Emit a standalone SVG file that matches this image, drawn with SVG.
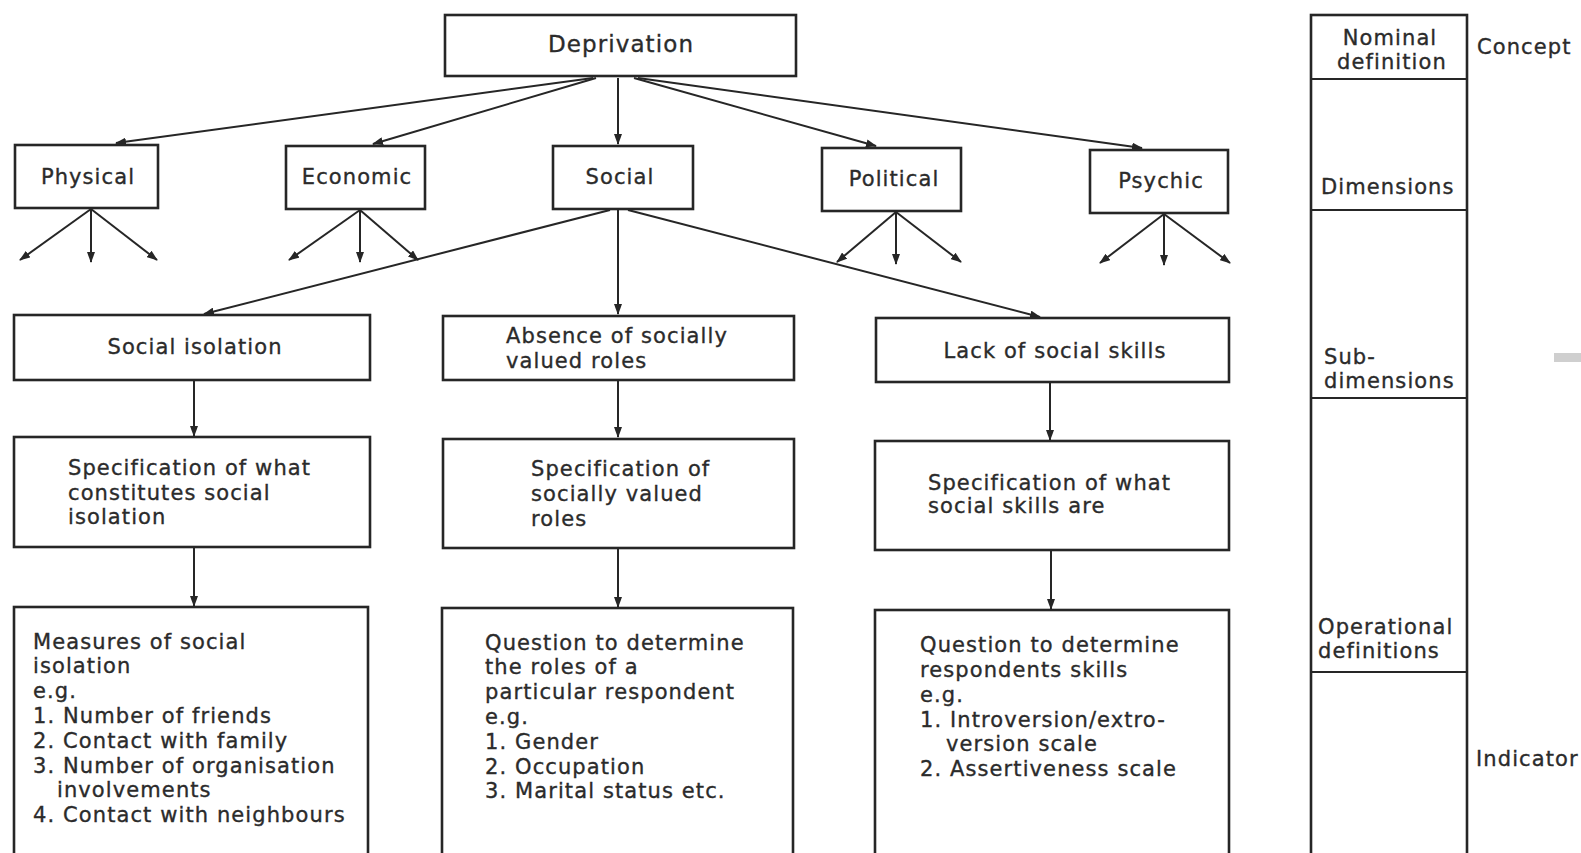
<svg xmlns="http://www.w3.org/2000/svg" width="1581" height="853" viewBox="0 0 1581 853">
<style>
.box{fill:#fff;stroke:#262626;stroke-width:2.6}
.ln{fill:none;stroke:#262626;stroke-width:2.2}
.con{fill:none;stroke:#262626;stroke-width:2;marker-end:url(#ah)}
text{font-family:"DejaVu Sans","Liberation Sans",sans-serif;font-size:21px;letter-spacing:1.1px;fill:#2b2b2b;stroke:#2b2b2b;stroke-width:0.35px}
.c{text-anchor:middle}
</style>
<defs>
<marker id="ah" markerWidth="11" markerHeight="8" refX="10" refY="4" orient="auto" markerUnits="userSpaceOnUse">
<path d="M0,0 L11,4 L0,8 z" fill="#262626"/>
</marker>
</defs>
<rect width="1581" height="853" fill="#fff"/>

<g id="connectors">
<line class="con" x1="593" y1="78" x2="116" y2="143"/>
<line class="con" x1="596" y1="78" x2="373" y2="144"/>
<line class="con" x1="618" y1="78" x2="618" y2="144"/>
<line class="con" x1="634" y1="78" x2="876" y2="146"/>
<line class="con" x1="638" y1="78" x2="1142" y2="148"/>

<line class="con" x1="91" y1="209" x2="20" y2="260"/>
<line class="con" x1="91" y1="209" x2="91" y2="262"/>
<line class="con" x1="91" y1="209" x2="157" y2="260"/>

<line class="con" x1="360" y1="210" x2="289" y2="260"/>
<line class="con" x1="360" y1="210" x2="360" y2="262"/>
<line class="con" x1="360" y1="210" x2="418" y2="260"/>

<line class="con" x1="896" y1="212" x2="837" y2="262"/>
<line class="con" x1="896" y1="212" x2="896" y2="264"/>
<line class="con" x1="896" y1="212" x2="961" y2="262"/>

<line class="con" x1="1164" y1="214" x2="1100" y2="263"/>
<line class="con" x1="1164" y1="214" x2="1164" y2="265"/>
<line class="con" x1="1164" y1="214" x2="1230" y2="263"/>

<line class="con" x1="610" y1="210" x2="204" y2="314"/>
<line class="con" x1="618" y1="210" x2="618" y2="314"/>
<line class="con" x1="628" y1="210" x2="1040" y2="317"/>

<line class="con" x1="194" y1="381" x2="194" y2="436"/>
<line class="con" x1="194" y1="548" x2="194" y2="606"/>
<line class="con" x1="618" y1="381" x2="618" y2="437"/>
<line class="con" x1="618" y1="549" x2="618" y2="607"/>
<line class="con" x1="1050" y1="383" x2="1050" y2="440"/>
<line class="con" x1="1051" y1="551" x2="1051" y2="609"/>
</g>

<g id="deprivation">
<rect class="box" x="445" y="15" width="351" height="61"/>
<text class="c" x="621" y="52" style="font-size:23px">Deprivation</text>
</g>

<g id="physical">
<rect class="box" x="15" y="145" width="143" height="63"/>
<text class="c" x="88" y="184">Physical</text>
</g>
<g id="economic">
<rect class="box" x="286" y="146" width="139" height="63"/>
<text class="c" x="357" y="184">Economic</text>
</g>
<g id="social">
<rect class="box" x="553" y="146" width="140" height="63"/>
<text class="c" x="620" y="184">Social</text>
</g>
<g id="political">
<rect class="box" x="822" y="148" width="139" height="63"/>
<text class="c" x="894" y="186">Political</text>
</g>
<g id="psychic">
<rect class="box" x="1090" y="150" width="138" height="63"/>
<text class="c" x="1161" y="188">Psychic</text>
</g>

<g id="social-isolation">
<rect class="box" x="14" y="315" width="356" height="65"/>
<text class="c" x="195" y="354">Social isolation</text>
</g>
<g id="absence">
<rect class="box" x="443" y="316" width="351" height="64"/>
<text x="506" y="343">Absence of socially</text>
<text x="506" y="368">valued roles</text>
</g>
<g id="lack-skills">
<rect class="box" x="876" y="318" width="353" height="64"/>
<text class="c" x="1055" y="358">Lack of social skills</text>
</g>

<g id="spec-isolation">
<rect class="box" x="14" y="437" width="356" height="110"/>
<text x="68" y="475">Specification of what</text>
<text x="68" y="500">constitutes social</text>
<text x="68" y="524">isolation</text>
</g>
<g id="spec-roles">
<rect class="box" x="443" y="439" width="351" height="109"/>
<text x="531" y="476">Specification of</text>
<text x="531" y="501">socially valued</text>
<text x="531" y="526">roles</text>
</g>
<g id="spec-skills">
<rect class="box" x="875" y="441" width="354" height="109"/>
<text x="928" y="490">Specification of what</text>
<text x="928" y="513">social skills are</text>
</g>

<g id="measures-isolation">
<rect class="box" x="14" y="607" width="354" height="260"/>
<text x="33" y="649">Measures of social</text>
<text x="33" y="673">isolation</text>
<text x="33" y="698">e.g.</text>
<text x="33" y="723">1. Number of friends</text>
<text x="33" y="748">2. Contact with family</text>
<text x="33" y="773">3. Number of organisation</text>
<text x="57" y="797">involvements</text>
<text x="33" y="822">4. Contact with neighbours</text>
</g>
<g id="question-roles">
<rect class="box" x="442" y="608" width="351" height="260"/>
<text x="485" y="650">Question to determine</text>
<text x="485" y="674">the roles of a</text>
<text x="485" y="699">particular respondent</text>
<text x="485" y="724">e.g.</text>
<text x="485" y="749">1. Gender</text>
<text x="485" y="774">2. Occupation</text>
<text x="485" y="798">3. Marital status etc.</text>
</g>
<g id="question-skills">
<rect class="box" x="875" y="610" width="354" height="260"/>
<text x="920" y="652">Question to determine</text>
<text x="920" y="677">respondents skills</text>
<text x="920" y="702">e.g.</text>
<text x="920" y="727">1. Introversion/extro-</text>
<text x="946" y="751">version scale</text>
<text x="920" y="776">2. Assertiveness scale</text>
</g>

<g id="levels">
<rect class="box" x="1311" y="15" width="156" height="860"/>
<line class="ln" x1="1311" y1="79" x2="1467" y2="79"/>
<line class="ln" x1="1311" y1="210" x2="1467" y2="210"/>
<line class="ln" x1="1311" y1="398" x2="1467" y2="398"/>
<line class="ln" x1="1311" y1="672" x2="1467" y2="672"/>
<text class="c" x="1390" y="45">Nominal</text>
<text class="c" x="1392" y="69">definition</text>
<text x="1321" y="194">Dimensions</text>
<text x="1324" y="364">Sub-</text>
<text x="1324" y="388">dimensions</text>
<text x="1318" y="634">Operational</text>
<text x="1318" y="658">definitions</text>
</g>
<g id="level-labels">
<text x="1477" y="54">Concept</text>
<text x="1476" y="766">Indicator</text>
</g>
<rect x="1554" y="353" width="27" height="9" fill="#cfcfcf"/>
</svg>
